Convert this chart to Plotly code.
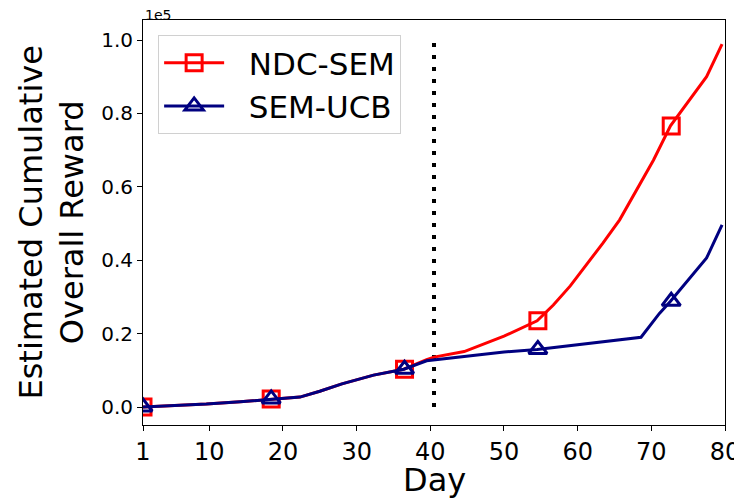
import plotly.graph_objects as go

# ---- data (reward values) ----
ndc_days = [1, 5, 9.6, 14.2, 18.4, 20, 22.3, 25, 28, 32.3, 36.4, 39.5, 40.5, 44.6,
            50, 54.5, 56.7, 59, 61.2, 63.4, 65.7, 68.0, 70.3, 72.6, 75, 77.5, 79.6]
ndc_vals = [0, 300, 800, 1450, 2000, 2300, 2700, 4300, 6300, 8700, 10300, 12900, 13600, 15100,
            19300, 23500, 27800, 33000, 38800, 44600, 51000, 59100, 67300, 76600, 83000, 90000, 98900]

ucb_days = [1, 5, 9.6, 14.2, 18.4, 20, 22.3, 25, 28, 32.3, 36.4, 39.5, 45.4,
            50, 54.5, 63, 68.6, 71.1, 72.6, 77.5, 79.6]
ucb_vals = [0, 300, 800, 1450, 2000, 2300, 2700, 4300, 6300, 8700, 10300, 12600, 13900,
            15000, 15700, 17700, 19000, 25500, 28800, 40600, 49600]

ndc_mark_days = [1, 18.4, 36.5, 54.6, 72.7]
ndc_mark_vals = [0, 2200, 10300, 23500, 76600]
ucb_mark_days = [1, 18.4, 36.5, 54.6, 72.7]
ucb_mark_vals = [0, 2200, 10300, 15700, 28800]

split_day = 40.5
x_ticks = [1, 10, 20, 30, 40, 50, 60, 70, 80]
y_ticks = [0, 20000, 40000, 60000, 80000, 100000]
y_tick_text = ["0.0", "0.2", "0.4", "0.6", "0.8", "1.0"]

RED = "#ff0000"
NAVY = "#000080"
FONT = "DejaVu Sans"
NB = "\u00a0"

fig = go.Figure()

# vertical dotted split line
fig.add_trace(go.Scatter(x=[split_day, split_day], y=[0, 100000], mode="lines",
                         line=dict(color="black", width=4, dash="4px,8px"),
                         showlegend=False, hoverinfo="skip"))

for name, d, v, md, mv, col, sym in [
    ("NDC-SEM", ndc_days, ndc_vals, ndc_mark_days, ndc_mark_vals, RED, "square-open"),
    ("SEM-UCB", ucb_days, ucb_vals, ucb_mark_days, ucb_mark_vals, NAVY, "triangle-up-open"),
]:
    fig.add_trace(go.Scatter(x=d, y=v, mode="lines", line=dict(color=col, width=3),
                             showlegend=False, legendgroup=name))
    fig.add_trace(go.Scatter(x=md, y=mv, mode="markers",
                             marker=dict(symbol=sym, size=16, color=col,
                                         line=dict(color=col, width=3)),
                             showlegend=False, legendgroup=name))
    fig.add_trace(go.Scatter(x=[None], y=[None], mode="lines+markers", name=NB * 2 + name,
                             line=dict(color=col, width=3),
                             marker=dict(symbol=sym, size=16, color=col,
                                         line=dict(color=col, width=3)),
                             legendgroup=name))

# page body has an 8px default margin, so the figure is 8px smaller than the window
fig.update_layout(
    width=734, height=491,
    margin=dict(l=135, r=17, t=12, b=74),
    paper_bgcolor="white", plot_bgcolor="white",
    font=dict(family=FONT, color="black"),
    showlegend=True,
    legend=dict(x=0.026, y=0.963, xanchor="left", yanchor="top",
                font=dict(size=31, family=FONT), bordercolor="#d0d0d0", borderwidth=1,
                bgcolor="rgba(255,255,255,0.8)", itemwidth=60, tracegroupgap=0),
)
fig.update_xaxes(range=[1, 80], tickvals=x_ticks, ticks="outside", ticklen=5, tickwidth=1,
                 tickcolor="black", showline=True, linecolor="black", linewidth=1, mirror=True,
                 showgrid=False, zeroline=False, automargin=False,
                 tickfont=dict(size=24, family=FONT))
fig.update_yaxes(range=[-4900, 105450], tickvals=y_ticks, ticktext=y_tick_text, ticks="outside",
                 ticklen=5, tickwidth=1, tickcolor="black", showline=True, linecolor="black",
                 linewidth=1, mirror=True, showgrid=False, zeroline=False, automargin=False,
                 tickfont=dict(size=20, family=FONT))

fig.add_annotation(text="Day", xref="paper", yref="paper", x=0.5, y=-0.136,
                   xanchor="center", yanchor="middle", showarrow=False,
                   font=dict(size=32, family=FONT))
fig.add_annotation(text="Estimated Cumulative<br>Overall Reward", xref="paper", yref="paper",
                   x=-0.158, y=0.5, xanchor="center", yanchor="middle", textangle=-90,
                   showarrow=False, font=dict(size=32, family=FONT))
fig.add_annotation(text="1e5", xref="paper", yref="paper", x=0, y=1.0,
                   xanchor="left", yanchor="bottom", yshift=-5, showarrow=False,
                   font=dict(size=14, family=FONT))

fig.write_html("out.html")
